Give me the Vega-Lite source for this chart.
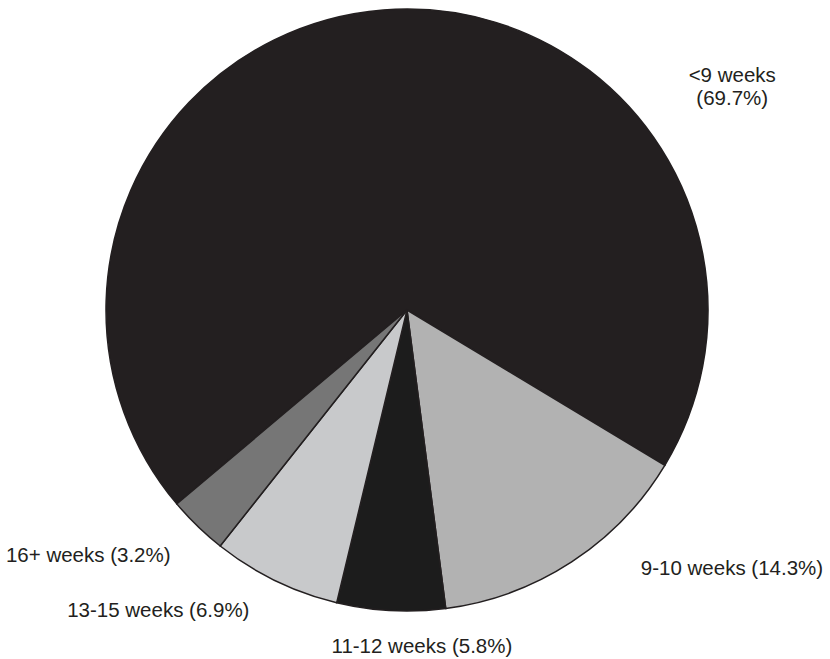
{
  "$schema": "https://vega.github.io/schema/vega-lite/v6.json",
  "width": 814,
  "height": 620,
  "autosize": "none",
  "padding": {"left": 0, "top": 0, "right": 16, "bottom": 39},
  "background": "white",
  "data": {
    "values": [
      {"group": "<9 weeks", "label": "<9 weeks\n(69.7%)", "share": 69.7, "idx": 1},
      {"group": "9-10 weeks", "label": "9-10 weeks (14.3%)", "share": 14.3, "idx": 2},
      {"group": "11-12 weeks", "label": "11-12 weeks (5.8%)", "share": 5.8, "idx": 3},
      {"group": "13-15 weeks", "label": "13-15 weeks (6.9%)", "share": 6.9, "idx": 4},
      {"group": "16+ weeks", "label": "16+ weeks (3.2%)", "share": 3.2, "idx": 5}
    ]
  },
  "encoding": {
    "theta": {
      "field": "share",
      "type": "quantitative",
      "stack": true,
      "scale": {"range": [-2.2707, 4.0125]}
    },
    "order": {"field": "idx", "type": "quantitative"}
  },
  "layer": [
    {
      "mark": {"type": "arc", "outerRadius": 301, "stroke": "#231f20", "strokeWidth": 1.5},
      "encoding": {
        "color": {
          "field": "group",
          "type": "nominal",
          "scale": {
            "domain": ["<9 weeks", "9-10 weeks", "11-12 weeks", "13-15 weeks", "16+ weeks"],
            "range": ["#231f20", "#b2b2b2", "#1c1c1c", "#c8c9cb", "#767676"]
          },
          "legend": null
        }
      }
    },
    {
      "mark": {"type": "text", "radius": 340, "dx": 352, "dy": 105, "fontSize": 20.5, "font": "Liberation Sans", "fill": "#231f20", "align": "center", "baseline": "middle", "lineBreak": "\n", "lineHeight": 23},
      "encoding": {"text": {"condition": {"test": "datum.idx === 1", "field": "label"}, "value": ""}}
    },
    {
      "mark": {"type": "text", "radius": 340, "dx": 139, "dy": -26, "fontSize": 20.5, "font": "Liberation Sans", "fill": "#231f20", "align": "center", "baseline": "middle"},
      "encoding": {"text": {"condition": {"test": "datum.idx === 2", "field": "label"}, "value": ""}}
    },
    {
      "mark": {"type": "text", "radius": 340, "dx": 33, "dy": -3, "fontSize": 20.5, "font": "Liberation Sans", "fill": "#231f20", "align": "center", "baseline": "middle"},
      "encoding": {"text": {"condition": {"test": "datum.idx === 3", "field": "label"}, "value": ""}}
    },
    {
      "mark": {"type": "text", "radius": 340, "dx": -100, "dy": -5, "fontSize": 20.5, "font": "Liberation Sans", "fill": "#231f20", "align": "center", "baseline": "middle"},
      "encoding": {"text": {"condition": {"test": "datum.idx === 4", "field": "label"}, "value": ""}}
    },
    {
      "mark": {"type": "text", "radius": 340, "dx": -82, "dy": 2, "fontSize": 20.5, "font": "Liberation Sans", "fill": "#231f20", "align": "center", "baseline": "middle"},
      "encoding": {"text": {"condition": {"test": "datum.idx === 5", "field": "label"}, "value": ""}}
    }
  ],
  "config": {"view": {"stroke": null}}
}
